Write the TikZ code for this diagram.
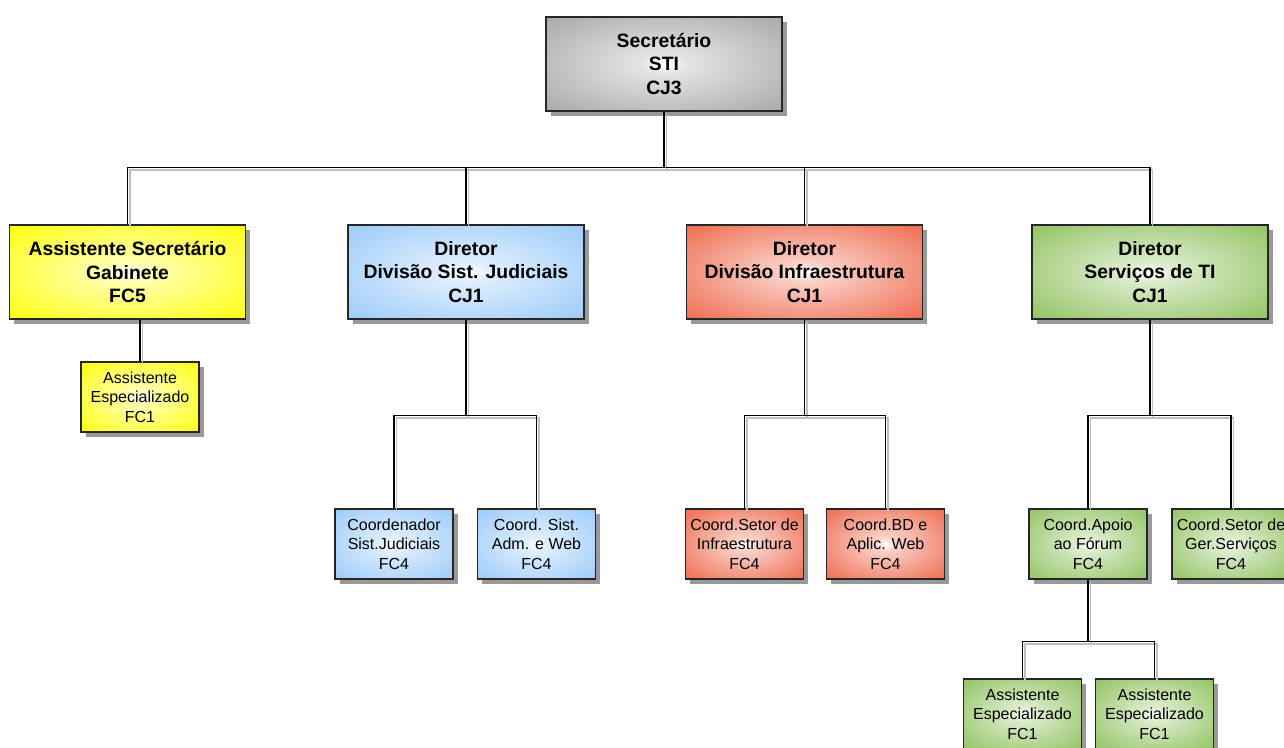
\documentclass[tikz,border=0pt]{standalone}
\usepackage{fontspec}
\setmainfont{Liberation Sans}
\usetikzlibrary{shadows}

\definecolor{cinza}{HTML}{A4A4A4}
\definecolor{amarelo}{HTML}{FFFF00}
\definecolor{azul}{HTML}{96C8FA}
\definecolor{vermelho}{HTML}{EE6446}
\definecolor{verde}{HTML}{8CC05A}
\colorlet{corfora}{cinza}
\pgfdeclareradialshading[corfora]{caixaradial}{\pgfpointorigin}{color(0bp)=(white); color(5bp)=(corfora!30!white); color(38bp)=(corfora); color(72bp)=(corfora)}

\begin{document}
\begin{tikzpicture}[x=0.75pt, y=-0.75pt]
	\tikzset{caixa/.style={draw=black!85, line width=0.9pt, minimum width=177pt, minimum height=70.5pt, align=center, font=\bfseries\fontsize{14.5}{17.5}\selectfont, drop shadow={shadow xshift=3.5pt, shadow yshift=-3.5pt, fill=black!40, opacity=1}},
		caixinha/.style={caixa, minimum width=88.5pt, minimum height=52.5pt, font=\fontsize{12}{14.6}\selectfont},
		cor/.style={/utils/exec={\colorlet{corfora}{#1}}, shading=caixaradial},
		ligacao/.style={draw=black, line width=0.9pt, preaction={draw=black!25, line width=1pt, transform canvas={shift={(2.5,2.5)}}}}};

	\useasboundingbox (0,0) rectangle (1284,747);

	% nivel 0
	\node[caixa, cor=cinza] (sec) at (664, 64) {Secretário\\STI\\CJ3};

	% nivel 1
	\node[caixa, cor=amarelo]  (asg) at (127.5, 272) {Assistente Secretário\\Gabinete\\FC5};
	\node[caixa, cor=azul]     (ddj) at (  466, 272) {Diretor\\Divisão Sist. Judiciais\\CJ1};
	\node[caixa, cor=vermelho] (ddi) at (804.5, 272) {Diretor\\Divisão Infraestrutura\\CJ1};
	\node[caixa, cor=verde]    (dst) at ( 1150, 272) {Diretor\\Serviços de TI\\CJ1};

	% nivel 2
	\node[caixinha, cor=amarelo]  (ae1) at (  140, 397) {Assistente\\Especializado\\FC1};
	\node[caixinha, cor=azul]     (csj) at (  394, 544) {Coordenador\\Sist.Judiciais\\FC4};
	\node[caixinha, cor=azul]     (csa) at (536.5, 544) {Coord. Sist.\\Adm. e Web\\FC4};
	\node[caixinha, cor=vermelho] (csi) at (744.5, 544) {Coord.Setor de\\Infraestrutura\\FC4};
	\node[caixinha, cor=vermelho] (cbd) at (885.5, 544) {Coord.BD e\\Aplic. Web\\FC4};
	\node[caixinha, cor=verde]    (caf) at ( 1088, 544) {Coord.Apoio\\ao Fórum\\FC4};
	\node[caixinha, cor=verde]    (cgs) at ( 1231, 544) {Coord.Setor de\\Ger.Serviços\\FC4};

	% nivel 3
	\node[caixinha, cor=verde] (ae2) at (1022.5, 714) {Assistente\\Especializado\\FC1};
	\node[caixinha, cor=verde] (ae3) at (1154.5, 714) {Assistente\\Especializado\\FC1};

	% ligacoes
	\draw[ligacao] (sec.south) -- ++(0,56) -| (asg.north)
		(sec.south) -- ++(0,56) -| (ddj.north)
		(sec.south) -- ++(0,56) -| (ddi.north)
		(sec.south) -- ++(0,56) -| (dst.north);
	\draw[ligacao] (ae1.north) -- (ae1.north |- asg.south);
	\draw[ligacao] (ddj.south) -- ++(0,96) -| (csj.north)
		(ddj.south) -- ++(0,96) -| (csa.north);
	\draw[ligacao] (ddi.south) -- ++(0,96) -| (csi.north)
		(ddi.south) -- ++(0,96) -| (cbd.north);
	\draw[ligacao] (dst.south) -- ++(0,96) -| (caf.north)
		(dst.south) -- ++(0,96) -| (cgs.north);
	\draw[ligacao] (caf.south) -- ++(0,62) -| (ae2.north)
		(caf.south) -- ++(0,62) -| (ae3.north);

\end{tikzpicture}
\end{document}
